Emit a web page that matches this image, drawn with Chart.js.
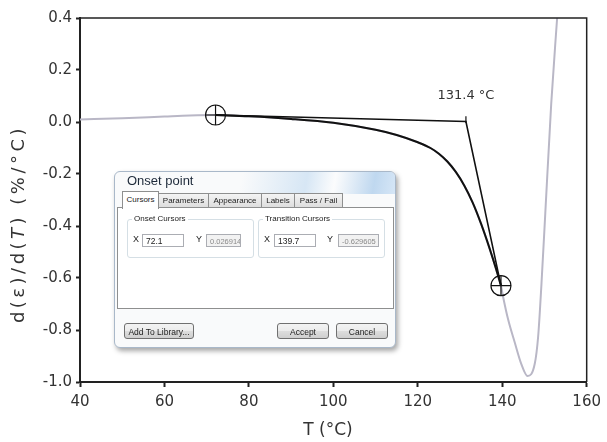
<!DOCTYPE html>
<html>
<head>
<meta charset="utf-8">
<script src="https://cdn.jsdelivr.net/npm/chart.js@4"></script>
<style>
    body { margin: 0; background: #fff; }
    #wrap { position: relative; width: 607px; height: 442px; }
    .dlg {
        position: absolute; left: 114px; top: 171px; width: 280px; height: 175px;
        border: 1px solid #a9b8c9; border-radius: 6px;
        background: #f9fafb;
        box-shadow: 2px 3px 5px rgba(0, 0, 0, 0.35);
        font-family: "Liberation Sans", Arial, sans-serif; font-size: 8px; color: #222;
        overflow: hidden;
    }
    .glass {
        position: absolute; left: 0; top: 0; width: 100%; height: 22px;
        background: linear-gradient(100deg, rgba(255,255,255,0) 45%, rgba(200,222,242,0.7) 68%, rgba(255,255,255,0.4) 78%, rgba(185,212,238,0.9) 92%, rgba(205,225,245,0.8) 100%);
    }
    .title { position: absolute; left: 12px; top: 1px; font-size: 13px; color: #1e2a3a; }
    .tab {
        position: absolute; top: 21px; height: 14px; line-height: 14px; text-align: center;
        border: 1px solid #8e8f8f; border-bottom: none;
        background: linear-gradient(#f4f4f4, #dcdcdc);
    }
    .tab.on { top: 19px; height: 17px; line-height: 15px; background: #fff; z-index: 2; }
    .panel { position: absolute; left: 2px; top: 35px; width: 275px; height: 100px; border: 1px solid #8e8f8f; background: #fff; }
    .grp { position: absolute; top: 11px; width: 125px; height: 37px; border: 1px solid #d5dfe5; border-radius: 3px; }
    .grp .lg { position: absolute; left: 4px; top: -6px; background: #fff; padding: 0 2px; }
    .lbl { position: absolute; top: 14px; font-size: 9px; }
    .box { position: absolute; top: 14px; height: 13px; line-height: 13px; border: 1px solid #abadb3; background: #fff; padding-left: 3px; font-size: 8.5px; box-sizing: border-box; overflow: hidden; white-space: nowrap; }
    .box.off { background: #f2f2f2; color: #8a8a8a; font-size: 7.5px; }
    .btn {
        position: absolute; top: 151px; height: 16px; line-height: 16px; text-align: center;
        border: 1px solid #707070; border-radius: 3px; box-sizing: border-box; font-size: 8.5px;
        background: linear-gradient(#f3f3f3 0%, #ebebeb 50%, #dddddd 51%, #cfcfcf 100%);
    }
</style>
</head>
<body>
<div id="wrap">
    <canvas id="chart" width="607" height="442"></canvas>
    <div class="dlg">
        <div class="glass"></div>
        <div class="title">Onset point</div>
        <div class="tab on" style="left:7px;width:35px">Cursors</div>
        <div class="tab" style="left:43px;width:49px">Parameters</div>
        <div class="tab" style="left:93px;width:52px">Appearance</div>
        <div class="tab" style="left:146px;width:32px">Labels</div>
        <div class="tab" style="left:179px;width:47px">Pass / Fail</div>
        <div class="panel">
            <div class="grp" style="left:9px">
                <span class="lg">Onset Cursors</span>
                <span class="lbl" style="left:5px">X</span>
                <div class="box" style="left:14px;width:42px" id="onsetX"></div>
                <span class="lbl" style="left:68px">Y</span>
                <div class="box off" style="left:78px;width:35px" id="onsetY"></div>
            </div>
            <div class="grp" style="left:140px">
                <span class="lg">Transition Cursors</span>
                <span class="lbl" style="left:5px">X</span>
                <div class="box" style="left:15px;width:42px" id="transX"></div>
                <span class="lbl" style="left:68px">Y</span>
                <div class="box off" style="left:79px;width:41px" id="transY"></div>
            </div>
        </div>
        <div class="btn" style="left:9px;width:70px">Add To Library...</div>
        <div class="btn" style="left:162px;width:52px">Accept</div>
        <div class="btn" style="left:221px;width:52px">Cancel</div>
    </div>
</div>
<script>
// derivative of strain vs temperature
const signalT = [40, 50, 60, 66, 72.1, 80, 90, 100, 110, 115, 120, 123, 125, 127, 129, 131, 133, 135, 137, 138.5, 139.7,
    140.2, 141.4, 143, 144.5, 146, 147.7, 148.5, 149.3, 150.2, 151.6, 153];
const signalY = [0.010, 0.014, 0.021, 0.025, 0.0269, 0.022, 0.012, -0.003, -0.030, -0.050, -0.078, -0.100, -0.122, -0.152, -0.192, -0.244, -0.310, -0.392, -0.486, -0.563, -0.6296,
    -0.672, -0.76, -0.85, -0.93, -0.977, -0.93, -0.826, -0.62, -0.35, 0.07, 0.40];

// onset / transition cursors and the tangent intersection
const onset = { x: 72.1, y: 0.026914 };
const transition = { x: 139.7, y: -0.629605 };
const crossing = { x: 131.4, y: 0.002 };
const crossingLabel = '131.4 °C';

const xTicks = [40, 60, 80, 100, 120, 140, 160];
const yTicks = [-1.0, -0.8, -0.6, -0.4, -0.2, 0.0, 0.2, 0.4];

document.getElementById('onsetX').textContent = onset.x.toFixed(1);
document.getElementById('onsetY').textContent = onset.y.toFixed(7);
document.getElementById('transX').textContent = transition.x.toFixed(1);
document.getElementById('transY').textContent = transition.y.toFixed(6);

const signal = signalT.map((t, i) => ({ x: t, y: signalY[i] }));
const fit = signal.filter(p => p.x >= onset.x && p.x <= transition.x);

const textColor = '#333';
const axisColor = '#222';

const decorations = {
    id: 'decorations',
    afterDraw(chart) {
        const ctx = chart.ctx;
        const a = chart.chartArea;
        const x = chart.scales.x, y = chart.scales.y;
        ctx.save();
        // top and right frame
        ctx.strokeStyle = axisColor;
        ctx.lineWidth = 1.5;
        ctx.beginPath();
        ctx.moveTo(a.left, a.top);
        ctx.lineTo(a.right, a.top);
        ctx.lineTo(a.right, a.bottom);
        ctx.stroke();

        // intersection label
        ctx.fillStyle = textColor;
        ctx.font = '13px "DejaVu Sans"';
        ctx.textAlign = 'center';
        ctx.textBaseline = 'middle';
        ctx.fillText(crossingLabel, x.getPixelForValue(crossing.x), y.getPixelForValue(crossing.y) - 26);

        // x title
        ctx.font = '17px "DejaVu Sans"';
        ctx.fillText('T (°C)', 328, 431);

        // y title, T in italic
        const parts = [['d(ε)/d(', ''], ['T', 'italic '], [') (%/°C)', '']];
        ctx.letterSpacing = '3.5px';
        let total = 0;
        parts.forEach(p => { ctx.font = p[1] + '18px "DejaVu Sans"'; total += ctx.measureText(p[0]).width; });
        ctx.translate(19, 224);
        ctx.rotate(-Math.PI / 2);
        ctx.textAlign = 'left';
        let pos = -total / 2;
        parts.forEach(p => {
            ctx.font = p[1] + '18px "DejaVu Sans"';
            ctx.fillText(p[0], pos, 0);
            pos += ctx.measureText(p[0]).width;
        });
        ctx.restore();
    }
};

new Chart(document.getElementById('chart'), {
    type: 'scatter',
    data: {
        datasets: [
            {
                data: signal, showLine: true, pointRadius: 0,
                borderColor: '#b9b7c6', borderWidth: 2, cubicInterpolationMode: 'monotone', order: 5
            },
            {
                data: fit, showLine: true, pointRadius: 0,
                borderColor: '#111', borderWidth: 2, cubicInterpolationMode: 'monotone', order: 4
            },
            {
                data: [onset, crossing, transition], showLine: true, pointRadius: 0,
                borderColor: '#111', borderWidth: 1.6, tension: 0, order: 3
            },
            {
                data: [{ x: crossing.x, y: crossing.y + 0.02 }, { x: crossing.x, y: crossing.y - 0.006 }],
                showLine: true, pointRadius: 0, borderColor: '#111', borderWidth: 1.2, order: 2
            },
            {
                data: [onset, transition], pointStyle: 'circle', pointRadius: 10,
                backgroundColor: 'rgba(0,0,0,0)', borderColor: '#111', borderWidth: 1.2, order: 1
            },
            {
                data: [onset, transition], pointStyle: 'cross', pointRadius: 10,
                borderColor: '#111', borderWidth: 1.2, order: 0
            }
        ]
    },
    options: {
        responsive: false,
        animation: false,
        events: [],
        layout: { padding: { left: 0, top: 18, right: 18, bottom: 0 } },
        plugins: {
            legend: { display: false },
            tooltip: { enabled: false }
        },
        scales: {
            x: {
                type: 'linear', min: 40, max: 160,
                afterBuildTicks: s => { s.ticks = xTicks.map(v => ({ value: v })); },
                afterFit: s => { s.height = 60; },
                border: { color: axisColor, width: 2 },
                grid: { drawOnChartArea: false, tickLength: 5, tickColor: axisColor, tickWidth: 2 },
                ticks: { color: textColor, padding: 6, font: { family: 'DejaVu Sans', size: 15 } }
            },
            y: {
                type: 'linear', min: -1.0, max: 0.4,
                afterBuildTicks: s => { s.ticks = yTicks.map(v => ({ value: v })); },
                afterFit: s => { s.width = 80; },
                border: { color: axisColor, width: 2 },
                grid: { drawOnChartArea: false, tickLength: 4, tickColor: axisColor, tickWidth: 2 },
                ticks: { color: textColor, padding: 4, font: { family: 'DejaVu Sans', size: 15 },
                    callback: v => v.toFixed(1) }
            }
        }
    },
    plugins: [decorations]
});
</script>
</body>
</html>
